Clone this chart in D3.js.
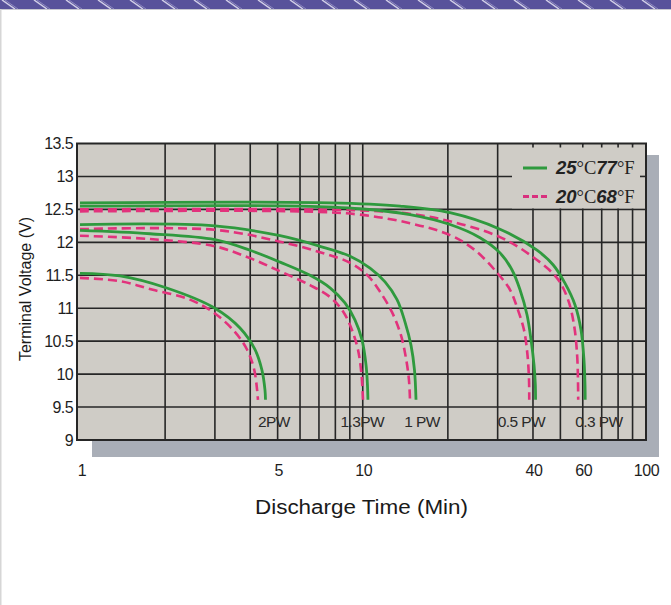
<!DOCTYPE html>
<html>
<head>
<meta charset="utf-8">
<script src="https://cdn.jsdelivr.net/npm/d3@7"></script>
<style>
  body { margin: 0; background: #fff; }
  svg { display: block; }
</style>
</head>
<body>
<script>
// discharge curves, [minutes, volts]
var rates = ['2PW', '1.3PW', '1 PW', '0.5 PW', '0.3 PW'];
var warm = [ // 25C 77F
  [[1,11.53],[1.385,11.49],[2.015,11.31],[3.0,11.0],[3.68,10.7],[4.16,10.37],[4.4,10.06],[4.51,9.76],[4.53,9.61]],
  [[1,12.18],[1.77,12.13],[3.0,12.04],[3.99,11.88],[5.1,11.7],[6.51,11.5],[7.66,11.31],[8.65,11.08],[9.39,10.82],[9.94,10.52],[10.27,10.14],[10.39,9.84],[10.43,9.61]],
  [[1,12.27],[3.0,12.25],[5.1,12.1],[7.06,11.94],[9.02,11.79],[10.61,11.61],[11.99,11.4],[13.22,11.13],[14.11,10.79],[14.81,10.44],[15.24,10.06],[15.43,9.61]],
  [[1,12.55],[6.0,12.55],[9.78,12.51],[14.69,12.42],[20.35,12.27],[25.98,12.07],[30.58,11.84],[33.73,11.58],[35.99,11.28],[38.1,10.9],[39.37,10.52],[40.34,10.14],[40.77,9.84],[40.85,9.61]],
  [[1,12.6],[7.66,12.6],[13.54,12.55],[20.35,12.45],[30.58,12.2],[41.33,11.88],[47.1,11.66],[51.9,11.38],[56.33,11.05],[59.15,10.67],[60.6,10.21],[61.1,9.84],[61.2,9.61]]
];
var cool = [ // 20C 68F
  [[1,11.46],[1.385,11.41],[1.81,11.28],[2.45,11.13],[3.0,10.92],[3.53,10.64],[3.9,10.37],[4.13,10.07],[4.23,9.76],[4.26,9.61]],
  [[1,12.1],[1.77,12.05],[3.0,11.94],[3.99,11.76],[5.1,11.56],[6.51,11.35],[7.66,11.17],[8.52,10.95],[9.16,10.67],[9.62,10.37],[9.9,9.99],[10.02,9.61]],
  [[1,12.2],[3.0,12.19],[5.1,12.01],[7.06,11.85],[9.02,11.69],[10.44,11.49],[11.51,11.25],[12.69,10.94],[13.65,10.59],[14.22,10.24],[14.57,9.91],[14.69,9.61]],
  [[1,12.47],[6.0,12.47],[9.78,12.42],[14.69,12.29],[20.35,12.11],[24.95,11.88],[29.84,11.54],[33.18,11.28],[35.41,10.97],[37.18,10.67],[38.25,10.29],[38.73,9.91],[38.8,9.61]],
  [[1,12.5],[6.0,12.5],[13.54,12.45],[20.35,12.32],[30.58,12.08],[39.04,11.81],[48.6,11.46],[53.2,11.13],[55.9,10.74],[57.3,10.29],[57.7,9.91],[57.8,9.61]]
];
var labelTimes = [4.85, 9.96, 16.2, 36.4, 68.4];
var xTicks = [1, 5, 10, 40, 60, 100];
var xGrid = [2,3,4,5,6,7,8,9,10,20,30,40,50,60,70,80,90];
var yTicks = [9, 9.5, 10, 10.5, 11, 11.5, 12, 12.5, 13, 13.5];

var W = 671, H = 605;
var pL = 77, pR = 646, pT = 143.5, pB = 440;

var svg = d3.select('body').append('svg')
   .attr('width', W)
   .attr('height', H);

// top band with diagonal stripes
var defs = svg.append('defs');
var pat = defs.append('pattern')
   .attr('id', 'stripes')
   .attr('patternUnits', 'userSpaceOnUse')
   .attr('width', 32).attr('height', 9);
pat.append('rect').attr('width', 32).attr('height', 9).attr('fill', '#58529b');
pat.append('line').attr('x1', 2).attr('y1', 0).attr('x2', 15).attr('y2', 9)
   .attr('stroke', '#d2cfe8').attr('stroke-width', 1.5);
pat.append('line').attr('x1', 5).attr('y1', 0).attr('x2', 18).attr('y2', 9)
   .attr('stroke', '#8c87c0').attr('stroke-width', 1);
svg.append('rect').attr('width', W).attr('height', 9).attr('fill', 'url(#stripes)');
svg.append('rect').attr('y', 9).attr('width', W).attr('height', 1).attr('fill', '#c8c8d0');
svg.append('rect').attr('y', 9).attr('width', 1.5).attr('height', H).attr('fill', '#d6d6d6');

var x = d3.scaleLog().domain([1, 100]).range([80, 645.5]);
var y = d3.scaleLinear().domain([9, 13.5]).range([pB, pT]);

// shadow + plot bg
svg.append('rect')
   .attr('x', 92).attr('y', 155)
   .attr('width', 567).attr('height', 302)
   .attr('fill', '#a9aeb7');
svg.append('rect')
   .attr('x', pL).attr('y', pT)
   .attr('width', pR - pL).attr('height', pB - pT)
   .attr('fill', '#cfccc6');

var grid = svg.append('g').attr('stroke', '#262626').attr('stroke-width', 1.6);
grid.selectAll('line.v').data(xGrid).enter().append('line')
   .attr('class', 'v')
   .attr('x1', d => x(d)).attr('x2', d => x(d))
   .attr('y1', pT).attr('y2', pB);
grid.selectAll('line.h').data(yTicks.slice(1, -1)).enter().append('line')
   .attr('class', 'h')
   .attr('x1', pL).attr('x2', pR)
   .attr('y1', d => y(d)).attr('y2', d => y(d));

// legend box hides the grid under it
var lgX = 512;
svg.append('rect')
   .attr('x', lgX).attr('y', pT + 1)
   .attr('width', pR - lgX - 1).attr('height', y(12.5) - pT - 2)
   .attr('fill', '#cfccc6');
var ticks = svg.append('g').attr('stroke', '#262626').attr('stroke-width', 1.6);
ticks.selectAll('line').data(xGrid.filter(d => x(d) > lgX)).enter().append('line')
   .attr('x1', d => x(d)).attr('x2', d => x(d))
   .attr('y1', pT).attr('y2', pT + 4);
ticks.append('line')
   .attr('x1', pR - 6).attr('x2', pR)
   .attr('y1', y(13)).attr('y2', y(13));

svg.append('rect')
   .attr('x', pL).attr('y', pT)
   .attr('width', pR - pL).attr('height', pB - pT)
   .attr('fill', 'none')
   .attr('stroke', '#262626').attr('stroke-width', 2);

// curves
var line = d3.line()
   .x(d => x(d[0]))
   .y(d => y(d[1]))
   .curve(d3.curveCatmullRom.alpha(0.5));

svg.append('g').selectAll('path').data(cool).enter().append('path')
   .attr('d', line)
   .attr('fill', 'none')
   .attr('stroke', '#e2327c')
   .attr('stroke-width', 2.6)
   .attr('stroke-dasharray', '9,5');
svg.append('g').selectAll('path').data(warm).enter().append('path')
   .attr('d', line)
   .attr('fill', 'none')
   .attr('stroke', '#2f9a3e')
   .attr('stroke-width', 2.8);

svg.append('g').selectAll('text').data(rates).enter().append('text')
   .attr('x', (d, i) => x(labelTimes[i]))
   .attr('y', 426.5)
   .attr('text-anchor', 'middle')
   .attr('font-family', 'Liberation Sans, Arial, sans-serif')
   .attr('font-size', 15.5)
   .attr('letter-spacing', -0.6)
   .attr('fill', '#2a2a2a')
   .text(d => d);

// legend
var legend = [
  {c: '25', f: '77', color: '#2f9a3e', dash: null, y: 168},
  {c: '20', f: '68', color: '#d9307e', dash: '6,3', y: 196.5}
];
legend.forEach(function(l) {
   svg.append('line')
      .attr('x1', 523).attr('x2', 547)
      .attr('y1', l.y).attr('y2', l.y)
      .attr('stroke', l.color).attr('stroke-width', 3)
      .attr('stroke-dasharray', l.dash);
   var t = svg.append('text')
      .attr('x', 556).attr('y', l.y + 6)
      .attr('font-size', 18.5)
      .attr('fill', '#222');
   t.append('tspan').attr('font-family', 'Liberation Sans, Arial')
      .attr('font-weight', 'bold').attr('font-style', 'italic').text(l.c);
   t.append('tspan').attr('font-family', 'Liberation Serif, Times').text('°C');
   t.append('tspan').attr('font-family', 'Liberation Sans, Arial')
      .attr('font-weight', 'bold').attr('font-style', 'italic').text(l.f);
   t.append('tspan').attr('font-family', 'Liberation Serif, Times').text('°F');
});

// axis labels
svg.append('g').selectAll('text').data(yTicks).enter().append('text')
   .attr('x', 73)
   .attr('y', d => y(d) + 5.5)
   .attr('text-anchor', 'end')
   .attr('font-family', 'Liberation Sans, Arial, sans-serif')
   .attr('font-size', 16)
   .attr('letter-spacing', -0.6)
   .attr('fill', '#1e1e1e')
   .text(d => d);
svg.append('g').selectAll('text').data(xTicks).enter().append('text')
   .attr('x', d => x(d) + (d == 1 ? 2 : 1))
   .attr('y', 476)
   .attr('text-anchor', 'middle')
   .attr('font-family', 'Liberation Sans, Arial, sans-serif')
   .attr('font-size', 16)
   .attr('letter-spacing', -0.4)
   .attr('fill', '#1e1e1e')
   .text(d => d);

svg.append('text')
   .attr('transform', 'translate(31,289) rotate(-90)')
   .attr('text-anchor', 'middle')
   .attr('font-family', 'Liberation Sans, Arial, sans-serif')
   .attr('font-size', 16)
   .attr('fill', '#1a1a1a')
   .text('Terminal Voltage (V)');
svg.append('text')
   .attr('x', 361.5).attr('y', 514)
   .attr('text-anchor', 'middle')
   .attr('font-family', 'Liberation Sans, Arial, sans-serif')
   .attr('font-size', 20)
   .attr('textLength', 213)
   .attr('lengthAdjust', 'spacingAndGlyphs')
   .attr('fill', '#1a1a1a')
   .text('Discharge Time (Min)');
</script>
</body>
</html>
